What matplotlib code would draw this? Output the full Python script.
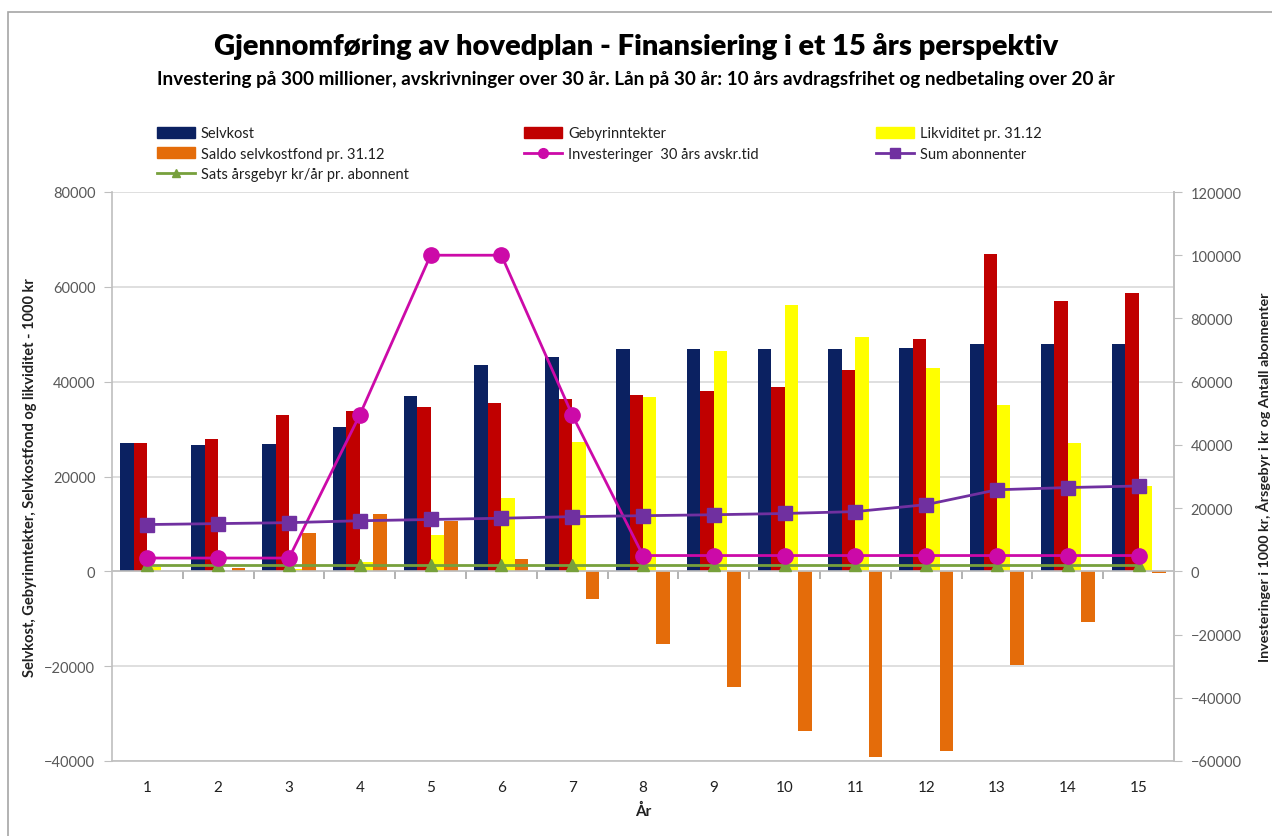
import numpy as np
import matplotlib
matplotlib.use('Agg')
import matplotlib.pyplot as plt
from matplotlib.patches import Patch, Rectangle
from matplotlib.lines import Line2D

plt.rcParams['font.family'] = ['Lato', 'DejaVu Sans']

# Data (left axis: 1000 kr, right axis: lines)
years = list(range(1, 16))
selvkost = [27100, 26600, 26900, 30400, 37000, 43500, 45300, 46800,
            46800, 46800, 46900, 47200, 47900, 47900, 47900]
gebyr = [27100, 27900, 33000, 33800, 34600, 35400, 36300, 37200,
         38000, 38800, 42400, 48900, 67000, 57100, 58800]
likviditet = [1000, 0, 500, 2000, 7600, 15500, 27300, 36700,
              46500, 56100, 49400, 42800, 35100, 27100, 18000]
saldo = [0, 800, 8000, 12000, 10700, 2500, -5800, -15300,
         -24400, -33600, -39100, -37800, -19700, -10700, -400]
investering = [4200, 4200, 4200, 49500, 100000, 100000, 49500, 5000,
               5000, 5000, 5000, 5000, 5000, 5000, 5000]
abonnenter = [14800, 15100, 15400, 16000, 16400, 16800, 17300, 17600,
              17900, 18300, 18900, 21100, 25800, 26500, 27000]
sats = [1900, 1900, 1900, 1900, 1900, 1900, 1900, 1900,
        1900, 1900, 1900, 1900, 1900, 1900, 1900]

labels = ['Selvkost', 'Gebyrinntekter', 'Likviditet pr. 31.12',
          'Saldo selvkostfond pr. 31.12', 'Investeringer  30 års avskr.tid',
          'Sum abonnenter', 'Sats årsgebyr kr/år pr. abonnent']

c_selv = '#0b2161'
c_geb = '#c00000'
c_likv = '#ffff00'
c_saldo = '#e46c0a'
c_inv = '#cc0aa8'
c_abo = '#7030a0'
c_sats = '#77a03c'
grid_c = '#d9d9d9'
axis_c = '#bfbfbf'

W, H = 1272, 837
fig = plt.figure(figsize=(W / 100, H / 100), dpi=100)

# outer chart border
fig.add_artist(Rectangle((8 / W, -0.1), 1.2, 1 - 13 / H + 0.1, transform=fig.transFigure,
                         fill=False, edgecolor='#a6a6a6', linewidth=1.2))

ax = fig.add_axes([112 / W, 1 - 762 / H, (1174 - 112) / W, (762 - 193) / H])
x = np.array(years)
bw = 0.19
ax.bar(x - 1.5 * bw, selvkost, bw, color=c_selv, zorder=2)
ax.bar(x - 0.5 * bw, gebyr, bw, color=c_geb, zorder=2)
ax.bar(x + 0.5 * bw, likviditet, bw, color=c_likv, zorder=2)
ax.bar(x + 1.5 * bw, saldo, bw, color=c_saldo, zorder=2)

ax.set_xlim(0.5, 15.5)
ax.set_ylim(-40000, 80000)
ax.set_yticks(np.arange(-40000, 80001, 20000))
ax.set_xticks(years)
ax.grid(axis='y', color=grid_c, linewidth=1.2)
ax.set_axisbelow(True)
ax.tick_params(axis='x', length=0, labelsize=11, labelcolor='#202020', pad=14)
ax.tick_params(axis='y', length=6, color=axis_c, labelsize=10.5, labelcolor='#595959', pad=6)
ax.spines['top'].set_visible(False)
for s in ['left', 'bottom', 'right']:
    ax.spines[s].set_color(axis_c)
    ax.spines[s].set_linewidth(1.2)

# category axis crossing at zero, with tick marks between categories
zx = ax.twiny()
zx.set_xlim(ax.get_xlim())
for s in ['top', 'left', 'right']:
    zx.spines[s].set_visible(False)
zx.spines['bottom'].set_position(('data', 0))
zx.spines['bottom'].set_color(axis_c)
zx.spines['bottom'].set_linewidth(1.2)
zx.xaxis.set_ticks_position('bottom')
zx.set_xticks(np.arange(1.5, 15, 1))
zx.tick_params(axis='x', length=6, width=1.2, color='#a6a6a6', direction='out',
               labelbottom=False, labeltop=False)

ax2 = ax.twinx()
ax2.set_ylim(-60000, 120000)
ax2.set_yticks(np.arange(-60000, 120001, 20000))
ax2.tick_params(axis='y', length=6, color=axis_c, labelsize=10.5, labelcolor='#595959', pad=6)
for s in ['top', 'left', 'bottom']:
    ax2.spines[s].set_visible(False)
ax2.spines['right'].set_color(axis_c)
ax2.spines['right'].set_linewidth(1.2)

ax2.plot(x, sats, color=c_sats, linewidth=2, marker='^', markersize=9, zorder=3)
ax2.plot(x, investering, color=c_inv, linewidth=2, marker='o', markersize=11, zorder=4)
ax2.plot(x, abonnenter, color=c_abo, linewidth=2, marker='s', markersize=10, zorder=5)

ax.set_ylabel('Selvkost, Gebyrinntekter, Selvkostfond og likviditet - 1000 kr',
              fontsize=10.5, fontweight='bold', color='#202020', labelpad=5)
ax2.set_ylabel('Investeringer i 1000 kr, Årsgebyr i kr og Antall abonnenter',
               fontsize=10.3, fontweight='bold', color='#202020', labelpad=10)
ax.set_xlabel('År', fontsize=11, fontweight='bold', color='#202020', labelpad=6)

fig.text(0.5, 1 - 47 / H, 'Gjennomføring av hovedplan - Finansiering i et 15 års perspektiv',
         ha='center', va='center', fontsize=21, fontweight='heavy', color='black')
fig.text(0.5, 1 - 80 / H, 'Investering på 300 millioner, avskrivninger over 30 år. '
         'Lån på 30 år: 10 års avdragsfrihet og nedbetaling over 20 år',
         ha='center', va='center', fontsize=13.6, fontweight='bold', color='black')

# legend, three columns placed like the original
h_selv = Patch(color=c_selv)
h_geb = Patch(color=c_geb)
h_likv = Patch(color=c_likv)
h_saldo = Patch(color=c_saldo)
h_inv = Line2D([], [], color=c_inv, linewidth=2, marker='o', markersize=7)
h_abo = Line2D([], [], color=c_abo, linewidth=2, marker='s', markersize=7)
h_sats = Line2D([], [], color=c_sats, linewidth=2, marker='^', markersize=6)

cols = [([h_selv, h_saldo, h_sats], [labels[0], labels[3], labels[6]], 150),
        ([h_geb, h_inv], [labels[1], labels[4]], 517),
        ([h_likv, h_abo], [labels[2], labels[5]], 869)]
for hs, ls, xpos in cols:
    fig.legend(hs, ls, loc='upper left', bbox_to_anchor=(xpos / W, 1 - 120 / H),
               frameon=False, fontsize=10.5, handlelength=2.6, handleheight=0.8,
               handletextpad=0.4, labelspacing=0.45, borderpad=0, labelcolor='#202020')

fig.savefig('out.png', dpi=100)
